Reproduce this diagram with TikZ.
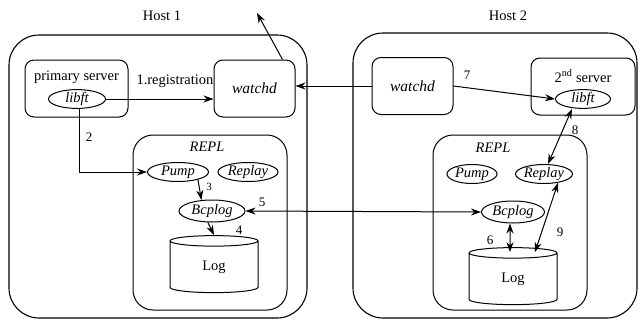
\documentclass[tikz,border=0pt]{standalone}
\usepackage{fontspec}
\setmainfont{Liberation Serif}
\usetikzlibrary{shapes.geometric,arrows.meta}

\begin{document}
\begin{tikzpicture}[x=1pt, y=-1pt, line width=1pt,
	every node/.style={font=\fontsize{14.5}{17}\selectfont},
	host/.style={draw, rounded corners=30pt, line width=1.1pt, inner sep=0pt},
	box/.style={draw, rounded corners=9pt, minimum height=57pt, inner sep=0pt},
	repl/.style={draw, rounded corners=20pt, minimum width=154pt, minimum height=175pt, inner sep=0pt},
	proc/.style={draw, ellipse, inner sep=0pt, minimum height=19pt, font=\fontsize{14.5}{17}\selectfont\itshape},
	store/.style={draw, cylinder, shape border rotate=90, aspect=0.45, minimum width=88pt, minimum height=57pt, inner sep=0pt},
	arr/.style={-{Stealth[length=10pt,width=7pt]}},
	darr/.style={{Stealth[length=10pt,width=7pt]}-{Stealth[length=10pt,width=7pt]}},
	num/.style={font=\fontsize{13}{15}\selectfont}]
	\useasboundingbox (0,0) rectangle (641,322);
	
	% the two hosts
	\node[host, minimum width=298pt, minimum height=283pt] (host1) at (158,176.5) {};
	\node[host, minimum width=284pt, minimum height=285pt] (host2) at (495,175.5) {};
	\node (host1lbl) at (162,16) {Host 1};
	\node (host2lbl) at (508,16) {Host 2};
	
	% host 1
	\node[box, minimum width=103pt] (primary) at (76.5,88.5) {};
	\node (primarylbl) at (76.5,77) {primary server};
	\node[proc, minimum width=57pt, minimum height=16pt] (libft1) at (77,99) {libft};
	\node[box, minimum width=81pt, font=\fontsize{15.5}{17}\selectfont\itshape] (watchd1) at (254.5,88.5) {watchd};
	\node[repl] (repl1) at (210,222.5) {};
	\node[font=\fontsize{14.5}{17}\selectfont\itshape] (repl1lbl) at (207,147) {REPL};
	\node[proc, minimum width=61pt] (pump1) at (178,172) {Pump};
	\node[proc, minimum width=60pt] (replay1) at (248,172) {Replay};
	\node[proc, minimum width=66pt, minimum height=22pt] (bcplog1) at (212,211) {Bcplog};
	\node[store] (log1) at (214,267) {Log};
	
	% host 2
	\node[box, minimum width=81pt, font=\fontsize{15.5}{17}\selectfont\itshape] (watchd2) at (412.5,86) {watchd};
	\node[box, minimum width=104pt] (second) at (583,86.5) {};
	\node (secondlbl) at (583,76) {2\textsuperscript{nd} server};
	\node[proc, minimum width=55pt, minimum height=16pt] (libft2) at (583,99) {libft};
	\node[repl] (repl2) at (510,222.5) {};
	\node[font=\fontsize{14.5}{17}\selectfont\itshape] (repl2lbl) at (493,148) {REPL};
	\node[proc, minimum width=50pt] (pump2) at (472,174) {Pump};
	\node[proc, minimum width=53pt] (replay2) at (544,174) {Replay};
	\node[proc, minimum width=63pt, minimum height=22pt] (bcplog2) at (513,212) {Bcplog};
	\node[store] (log2) at (513,279) {Log};
	
	\coordinate (exit) at (257,13);
	
	% connectors
	\draw[arr] (libft1.east) -- (libft1.east -| watchd1.west);
	\draw[arr] ([xshift=-13pt]watchd1.north east) -- (exit);
	\draw[arr] (watchd2.west) -- (watchd2.west -| watchd1.east);
	\draw[arr] ([xshift=2pt]libft1.south) |- (pump1.west);
	\draw[arr] (pump1.-21) -- (bcplog1.134);
	\draw[arr] (bcplog1.250) -- (log1.north);
	\draw[darr] (bcplog1.east) -- (bcplog2.west);
	\draw[darr] ([xshift=-3pt]bcplog2.south) -- ([xshift=-3pt,yshift=-5pt]log2.north);
	\draw[darr] (replay2.-32) -- ([xshift=22pt,yshift=-5pt]log2.north);
	\draw[darr] ([xshift=-11pt]libft2.south) -- ([xshift=4pt]replay2.north);
	\draw[arr] (watchd2.east) -- (libft2.west);
	
	% labels
	\node (reg) at (175,81) {1.registration};
	\node[num] (n2) at (89,137) {2};
	\node[num, font=\fontsize{11}{13}\selectfont] (n3) at (209,187) {3};
	\node[num] (n4) at (239,230) {4};
	\node[num] (n5) at (262,202) {5};
	\node[num] (n6) at (490,240) {6};
	\node[num] (n7) at (467,75) {7};
	\node[num] (n8) at (575,130) {8};
	\node[num] (n9) at (560,232) {9};
\end{tikzpicture}
\end{document}
